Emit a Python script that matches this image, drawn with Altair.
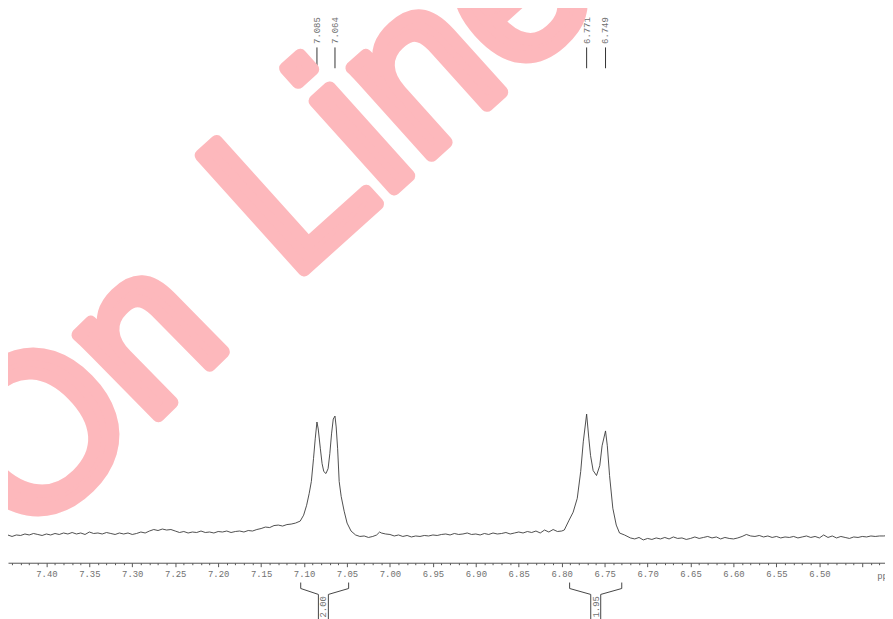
import altair as alt
import pandas as pd
import numpy as np

# ---------------- spectrum (chemical shift in ppm, intensity in arbitrary units) ----------------
ppm = [
    7.445, 7.440, 7.435, 7.430, 7.425, 7.420, 7.415, 7.410, 7.405, 7.400,
    7.395, 7.390, 7.385, 7.380, 7.375, 7.370, 7.365, 7.360, 7.355, 7.350,
    7.345, 7.340, 7.335, 7.330, 7.325, 7.320, 7.315, 7.310, 7.305, 7.300,
    7.295, 7.290, 7.285, 7.280, 7.275, 7.270, 7.265, 7.260, 7.255, 7.250,
    7.245, 7.240, 7.235, 7.230, 7.225, 7.220, 7.215, 7.210, 7.205, 7.200,
    7.195, 7.190, 7.185, 7.180, 7.175, 7.170, 7.165, 7.160, 7.155, 7.150,
    7.145, 7.140, 7.135, 7.130, 7.125, 7.120, 7.115, 7.110,
    7.1045, 7.1005, 7.097, 7.094, 7.0915, 7.089, 7.087, 7.085, 7.0835, 7.081,
    7.079, 7.077, 7.0745, 7.072, 7.070, 7.068, 7.066, 7.064, 7.0626, 7.0609,
    7.0591, 7.0568, 7.0533, 7.0499, 7.0453,
    7.040, 7.035, 7.030, 7.025, 7.020, 7.0155, 7.012, 7.010, 7.005,
    7.000, 6.995, 6.990, 6.985, 6.980, 6.975, 6.970, 6.965, 6.960, 6.955,
    6.950, 6.945, 6.940, 6.935, 6.930, 6.925, 6.920, 6.915, 6.910, 6.905,
    6.900, 6.895, 6.890, 6.885, 6.880, 6.875, 6.870, 6.865, 6.860, 6.855,
    6.850, 6.845, 6.840, 6.835, 6.830, 6.825, 6.820, 6.815, 6.810, 6.805,
    6.800,
    6.797, 6.7914, 6.7867, 6.7819, 6.7779, 6.7749, 6.771, 6.7684, 6.7664, 6.7634,
    6.7595, 6.7557, 6.753, 6.749, 6.7469, 6.7443, 6.7405, 6.7365, 6.7327, 6.7269,
    6.720, 6.715, 6.710, 6.705, 6.700, 6.695, 6.690, 6.685, 6.680, 6.675,
    6.670, 6.665, 6.660, 6.655, 6.650, 6.645, 6.640, 6.635, 6.630, 6.625,
    6.620, 6.615, 6.610, 6.605, 6.600, 6.595, 6.590, 6.585, 6.580, 6.575,
    6.570, 6.565, 6.560, 6.555, 6.550, 6.545, 6.540, 6.535, 6.530, 6.525,
    6.520, 6.515, 6.510, 6.505, 6.500, 6.495, 6.490, 6.485, 6.480, 6.475,
    6.470, 6.465, 6.460, 6.455, 6.450, 6.445, 6.440, 6.435, 6.430, 6.425,
    6.420,
]
intensity = [
    0.28, 0.265, 0.28, 0.275, 0.29, 0.28, 0.295, 0.285, 0.275, 0.29,
    0.28, 0.295, 0.285, 0.30, 0.29, 0.305, 0.29, 0.30, 0.285, 0.31,
    0.295, 0.30, 0.29, 0.305, 0.295, 0.285, 0.30, 0.29, 0.30, 0.285,
    0.295, 0.31, 0.30, 0.32, 0.335, 0.325, 0.34, 0.33, 0.335, 0.32,
    0.305, 0.315, 0.30, 0.31, 0.305, 0.32, 0.305, 0.31, 0.30, 0.315,
    0.31, 0.32, 0.305, 0.315, 0.32, 0.31, 0.325, 0.32, 0.335, 0.345,
    0.36, 0.355, 0.375, 0.38, 0.37, 0.385, 0.39, 0.40,
    0.42, 0.48, 0.58, 0.70, 0.82, 1.05, 1.25, 1.42, 1.35, 1.15,
    1.00, 0.92, 0.90, 0.95, 1.10, 1.30, 1.45, 1.48, 1.37, 1.15,
    0.82, 0.67, 0.52, 0.40, 0.32,
    0.28, 0.265, 0.27, 0.255, 0.265, 0.28, 0.31, 0.30, 0.29,
    0.285, 0.27, 0.28, 0.265, 0.275, 0.26, 0.27, 0.265, 0.275, 0.27,
    0.28, 0.275, 0.285, 0.29, 0.28, 0.295, 0.285, 0.29, 0.30, 0.285,
    0.29, 0.28, 0.295, 0.285, 0.30, 0.29, 0.295, 0.305, 0.29, 0.30,
    0.31, 0.30, 0.315, 0.305, 0.32, 0.30, 0.33, 0.31, 0.335, 0.315,
    0.32,
    0.33, 0.43, 0.51, 0.65, 0.92, 1.22, 1.50, 1.25, 1.08, 0.93,
    0.88, 0.98, 1.18, 1.33, 1.18, 0.88, 0.55, 0.38, 0.30, 0.28,
    0.25, 0.24, 0.255, 0.23, 0.245, 0.235, 0.25, 0.24, 0.255, 0.24,
    0.26, 0.245, 0.25, 0.235, 0.245, 0.26, 0.245, 0.255, 0.265, 0.25,
    0.26, 0.24, 0.255, 0.245, 0.24, 0.25, 0.265, 0.285, 0.27, 0.265,
    0.275, 0.26, 0.27, 0.255, 0.265, 0.25, 0.26, 0.255, 0.265, 0.25,
    0.26, 0.27, 0.255, 0.265, 0.25, 0.28, 0.255, 0.27, 0.25, 0.265,
    0.255, 0.245, 0.26, 0.255, 0.265, 0.26, 0.27, 0.265, 0.27, 0.27,
    0.275,
]

# peak picking labels
peak_ppm = [7.085, 7.064, 6.771, 6.749]
peak_labels = ["7.085", "7.064", "6.771", "6.749"]

# integrals
integral_start = [7.1039, 6.7908]
integral_end = [7.0481, 6.7301]
integral_center = [7.0775, 6.7604]
integral_values = ["2.00", "1.95"]

# axis ticks (major every 0.05, minor every 0.01)
tick_values = [round(float(v), 2) for v in np.arange(7.44, 6.425, -0.01)]

# watermark words
watermark_words = ["On", "Line"]

# ---------------- styling ----------------
X_DOMAIN = [6.4236, 7.4447]
Y_DOMAIN = [0, 5.57]
LINE_COLOR = "#3a3a3a"
TEXT_COLOR = "#707070"
MONO = "Liberation Mono"
PINK = "#fdb8bc"
WM_X = [20, 285]      # anchor of each word, pixels
WM_Y = [538, 274]
WM_ANGLE = [315.5, 318]
WM_SIZE = [218, 226]

spec_df = pd.DataFrame({"ppm": ppm, "I": intensity})
peak_df = pd.DataFrame({
    "ppm": peak_ppm, "label": peak_labels,
    "I": [5.20] * len(peak_ppm), "I2": [4.99] * len(peak_ppm),
    "It": [5.37] * len(peak_ppm),
})

rows = []
half = 0.0058
for k in range(len(integral_start)):
    s, e, c = integral_start[k], integral_end[k], integral_center[k]
    for side, (inner, outer) in enumerate([(c + half, s), (c - half, e)]):
        pts = [(inner, -0.60), (inner, -0.32), (outer, -0.26), (outer, -0.20)]
        for j, (px, py) in enumerate(pts):
            rows.append({"ppm": px, "I": py, "seg": f"{k}-{side}", "o": j})
bracket_df = pd.DataFrame(rows)
btext_df = pd.DataFrame({"ppm": integral_center, "label": integral_values,
                         "I": [-0.445] * len(integral_center)})
wm_df = pd.DataFrame({"t": watermark_words, "px": WM_X, "py": WM_Y,
                      "ang": WM_ANGLE, "fs": WM_SIZE})

major_test = "abs(datum.value*20 - round(datum.value*20)) < 0.01"
x_axis = alt.Axis(
    values=tick_values,
    tickCount=len(tick_values),
    labelExpr=f"({major_test} && datum.value > 6.47) ? format(datum.value, '.2f') : ''",
    tickSize={"condition": {"test": major_test, "value": 4}, "value": 2},
    labelFont=MONO, labelFontSize=9, labelColor=TEXT_COLOR, labelPadding=3,
    domainColor="#555555", tickColor="#555555", domainWidth=1, tickWidth=1,
    grid=False, labelOverlap=False, labelFlush=False,
    title="ppm", titleX=876.7, titleY=12.7, titleAlign="left", titleBaseline="middle",
    titleFont=MONO, titleFontSize=9, titleFontWeight="normal", titleColor=TEXT_COLOR,
)

x_enc = alt.X("ppm:Q", scale=alt.Scale(domain=X_DOMAIN, reverse=True, nice=False, zero=False), axis=x_axis)
y_enc = alt.Y("I:Q", scale=alt.Scale(domain=Y_DOMAIN, nice=False, zero=False), axis=None)

spectrum = alt.Chart(spec_df).mark_line(color=LINE_COLOR, strokeWidth=0.9).encode(x=x_enc, y=y_enc)

peak_rules = alt.Chart(peak_df).mark_rule(color="#333333", strokeWidth=1).encode(
    x="ppm:Q", y="I:Q", y2="I2:Q")
peak_text = alt.Chart(peak_df).mark_text(
    angle=270, align="center", baseline="middle", font=MONO, fontSize=9, color=TEXT_COLOR
).encode(x="ppm:Q", y=alt.Y("It:Q"), text="label:N")

brackets = alt.Chart(bracket_df).mark_line(color="#444444", strokeWidth=1).encode(
    x="ppm:Q", y="I:Q", detail="seg:N", order="o:Q")
bracket_text = alt.Chart(btext_df).mark_text(
    angle=270, align="center", baseline="middle", font=MONO, fontSize=9, color=TEXT_COLOR
).encode(x="ppm:Q", y="I:Q", text="label:N")

watermark = alt.Chart(wm_df).mark_text(
    align="left", baseline="alphabetic",
    font="Liberation Sans", fontWeight="normal", color=PINK,
    stroke=PINK, strokeWidth=13, strokeJoin="round"
).encode(
    x=alt.X("px:Q", scale=None), y=alt.Y("py:Q", scale=None),
    angle=alt.Angle("ang:Q", scale=None), size=alt.Size("fs:Q", scale=None),
    text="t:N",
)

chart = alt.layer(spectrum, peak_rules, peak_text, brackets, bracket_text, watermark).properties(
    width=885, height=557,
    autosize=alt.AutoSizeParams(type="none"),
    padding={"left": 0, "top": 0, "right": 0, "bottom": 54},
    background="white",
).configure_view(stroke=None)

chart.save("out.html", embed_options={"renderer": "svg", "actions": False})
